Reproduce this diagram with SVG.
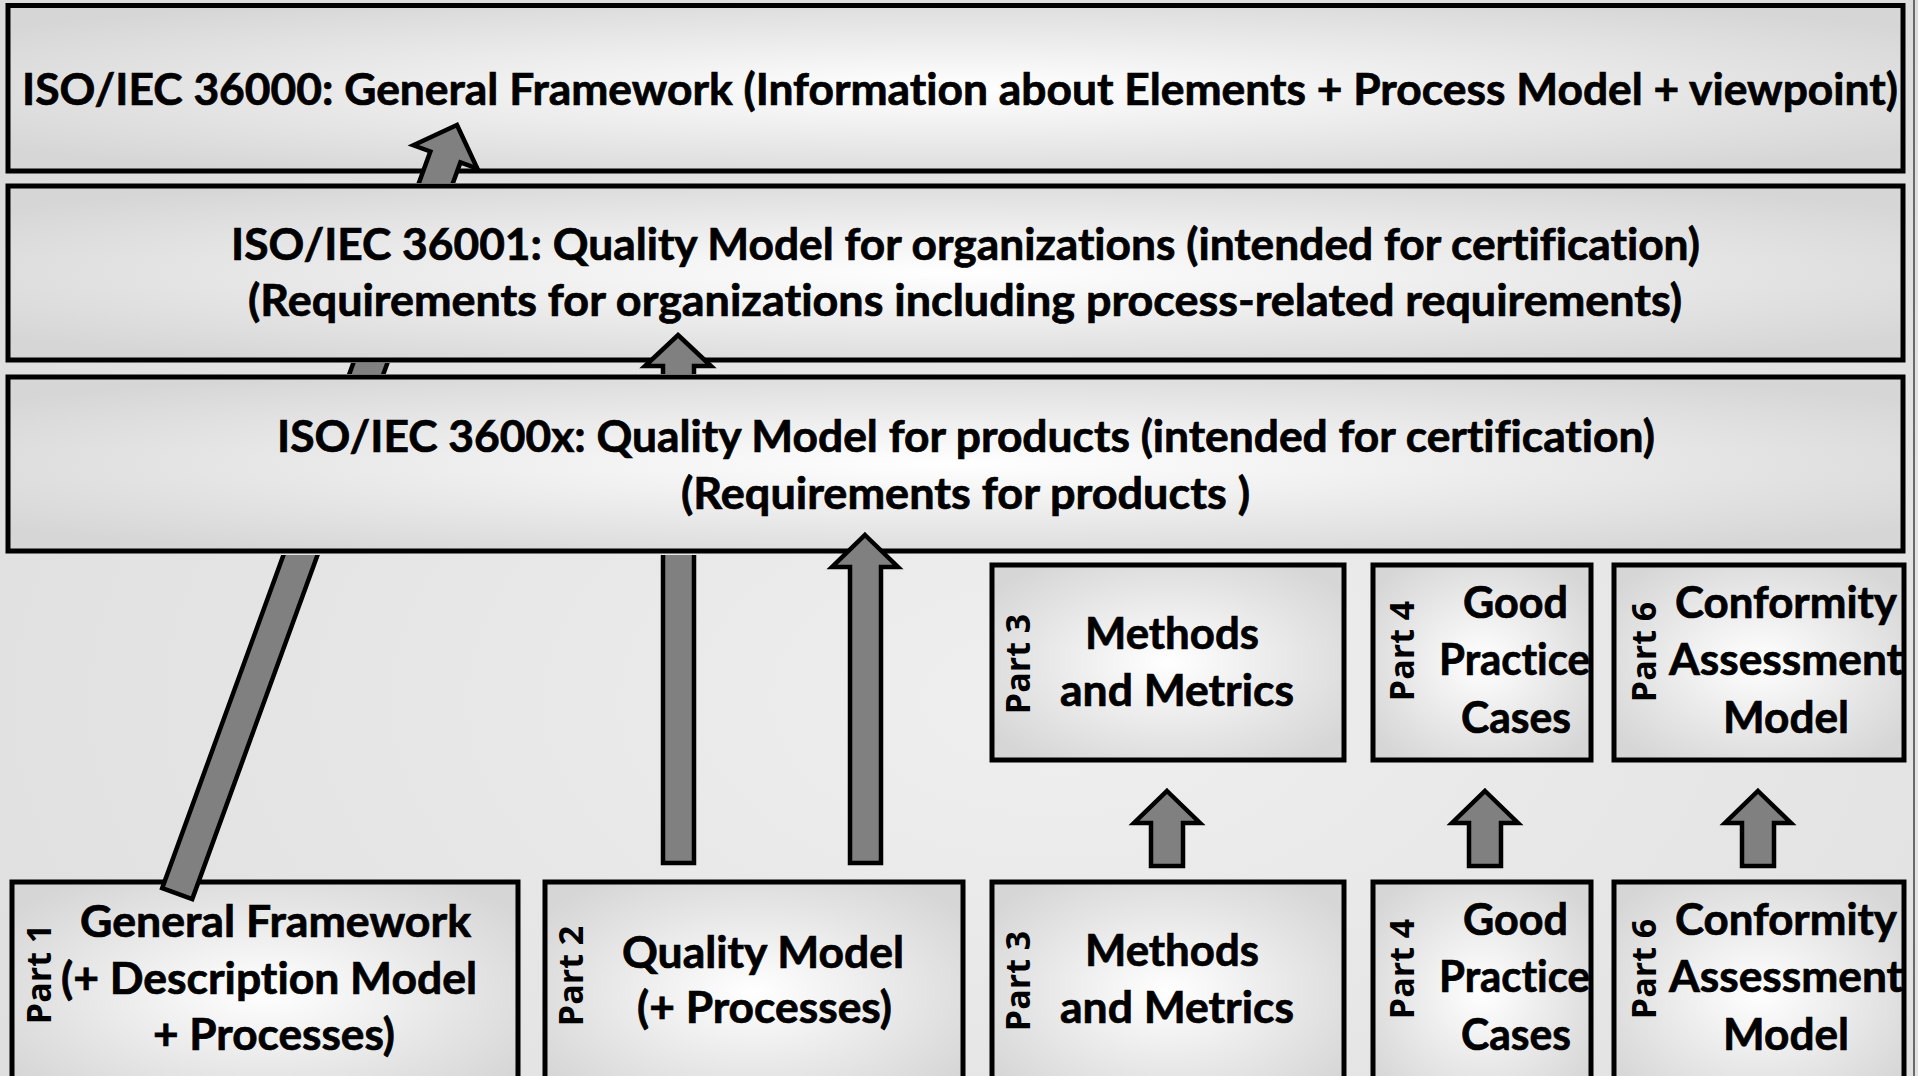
<svg xmlns="http://www.w3.org/2000/svg" width="1918" height="1076" viewBox="0 0 1918 1076">
<defs>
<radialGradient id="boxFill" cx="50%" cy="50%" r="62%">
<stop offset="0" stop-color="#ffffff"/>
<stop offset="1" stop-color="#d6d6d6"/>
</radialGradient>
<radialGradient id="bg" cx="55%" cy="65%" r="75%">
<stop offset="0" stop-color="#efefef"/>
<stop offset="1" stop-color="#dcdcdc"/>
</radialGradient>
<mask id="mDiag" maskUnits="userSpaceOnUse" x="0" y="0" width="1918" height="1076">
<rect x="0" y="0" width="1918" height="1076" fill="#fff"/>
<rect x="0" y="183" width="1918" height="180" fill="#000"/>
<rect x="0" y="374" width="1918" height="181" fill="#000"/>
</mask>
<mask id="mA" maskUnits="userSpaceOnUse" x="0" y="0" width="1918" height="1076">
<rect x="0" y="0" width="1918" height="1076" fill="#fff"/>
<rect x="0" y="374" width="1918" height="181" fill="#000"/>
</mask>
</defs>
<style>
.box{fill:url(#boxFill);stroke:#000;stroke-width:5}
.arrow{fill:#808080;stroke:#000;stroke-width:4.5;stroke-linejoin:miter}
.t{font-family:Lato,"Open Sans","Liberation Sans",sans-serif;font-weight:bold;font-size:43px;fill:#000;stroke:#000;stroke-width:0.7;font-variant-ligatures:none;font-feature-settings:"liga" 0,"dlig" 0}
.part{font-family:"Open Sans","DejaVu Sans",sans-serif;font-weight:bold;font-size:34px;fill:#000;text-anchor:middle}
</style>
<rect x="0" y="0" width="1918" height="1076" fill="url(#bg)"/>
<line x1="1914" y1="0" x2="1914" y2="1076" stroke="#6a6a6a" stroke-width="2"/>

<g id="nodes">
<g id="iso36000">
<rect class="box" x="8" y="5.5" width="1895" height="165.5"/>
<text class="t" x="22" y="105" textLength="1876" lengthAdjust="spacingAndGlyphs">ISO/IEC 36000: General Framework (Information about Elements + Process Model + viewpoint)</text>
</g>
<g id="iso36001">
<rect class="box" x="8" y="186" width="1895" height="174"/>
<text class="t" x="231" y="260" textLength="1469" lengthAdjust="spacingAndGlyphs">ISO/IEC 36001: Quality Model for organizations (intended for certification)</text>
<text class="t" x="248" y="316" textLength="1434" lengthAdjust="spacingAndGlyphs">(Requirements for organizations including process-related requirements)</text>
</g>
<g id="iso3600x">
<rect class="box" x="8" y="377" width="1895" height="174"/>
<text class="t" x="277" y="452" textLength="1378" lengthAdjust="spacingAndGlyphs">ISO/IEC 3600x: Quality Model for products (intended for certification)</text>
<text class="t" x="681" y="509" textLength="569" lengthAdjust="spacingAndGlyphs">(Requirements for products )</text>
</g>

<g id="top-part3">
<rect class="box" x="992" y="565" width="352" height="195"/>
<text class="part" transform="translate(1030,664) rotate(-90)">Part 3</text>
<text class="t" x="1085" y="649" textLength="174" lengthAdjust="spacingAndGlyphs">Methods</text>
<text class="t" x="1060" y="706" textLength="234" lengthAdjust="spacingAndGlyphs">and Metrics</text>
</g>
<g id="top-part4">
<rect class="box" x="1373" y="565" width="218" height="195"/>
<text class="part" transform="translate(1414,651) rotate(-90)">Part 4</text>
<text class="t" x="1463" y="618" textLength="105" lengthAdjust="spacingAndGlyphs">Good</text>
<text class="t" x="1439" y="675" textLength="151" lengthAdjust="spacingAndGlyphs">Practice</text>
<text class="t" x="1461" y="733" textLength="110" lengthAdjust="spacingAndGlyphs">Cases</text>
</g>
<g id="top-part6">
<rect class="box" x="1614" y="565" width="290" height="195"/>
<text class="part" transform="translate(1656,652) rotate(-90)">Part 6</text>
<text class="t" x="1675" y="618" textLength="222" lengthAdjust="spacingAndGlyphs">Conformity</text>
<text class="t" x="1669" y="675" textLength="234" lengthAdjust="spacingAndGlyphs">Assessment</text>
<text class="t" x="1723" y="733" textLength="126" lengthAdjust="spacingAndGlyphs">Model</text>
</g>

<g id="part1">
<rect class="box" x="12" y="882" width="506" height="220"/>
<text class="part" transform="translate(51,974) rotate(-90)">Part 1</text>
<text class="t" x="80" y="937" textLength="391" lengthAdjust="spacingAndGlyphs">General Framework</text>
<text class="t" x="61" y="994" textLength="416" lengthAdjust="spacingAndGlyphs">(+ Description Model</text>
<text class="t" x="153" y="1050" textLength="242" lengthAdjust="spacingAndGlyphs">+ Processes)</text>
</g>
<g id="part2">
<rect class="box" x="545" y="882" width="418" height="220"/>
<text class="part" transform="translate(583,976) rotate(-90)">Part 2</text>
<text class="t" x="622" y="968" textLength="282" lengthAdjust="spacingAndGlyphs">Quality Model</text>
<text class="t" x="637" y="1023" textLength="255" lengthAdjust="spacingAndGlyphs">(+ Processes)</text>
</g>
<g id="part3">
<rect class="box" x="992" y="882" width="352" height="220"/>
<text class="part" transform="translate(1030,981) rotate(-90)">Part 3</text>
<text class="t" x="1085" y="966" textLength="174" lengthAdjust="spacingAndGlyphs">Methods</text>
<text class="t" x="1060" y="1023" textLength="234" lengthAdjust="spacingAndGlyphs">and Metrics</text>
</g>
<g id="part4">
<rect class="box" x="1373" y="882" width="218" height="220"/>
<text class="part" transform="translate(1414,969) rotate(-90)">Part 4</text>
<text class="t" x="1463" y="935" textLength="105" lengthAdjust="spacingAndGlyphs">Good</text>
<text class="t" x="1439" y="992" textLength="151" lengthAdjust="spacingAndGlyphs">Practice</text>
<text class="t" x="1461" y="1050" textLength="110" lengthAdjust="spacingAndGlyphs">Cases</text>
</g>
<g id="part6">
<rect class="box" x="1614" y="882" width="290" height="220"/>
<text class="part" transform="translate(1656,969) rotate(-90)">Part 6</text>
<text class="t" x="1675" y="935" textLength="222" lengthAdjust="spacingAndGlyphs">Conformity</text>
<text class="t" x="1669" y="992" textLength="234" lengthAdjust="spacingAndGlyphs">Assessment</text>
<text class="t" x="1723" y="1050" textLength="126" lengthAdjust="spacingAndGlyphs">Model</text>
</g>
</g>

<g id="connectors">
<g mask="url(#mDiag)">
<polygon class="arrow" transform="translate(457,125) rotate(20)" points="0,0 34,34 16,34 16,818 -16,818 -16,34 -34,34"/>
</g>
<g mask="url(#mA)">
<polygon class="arrow" points="678,335 711,366 694,366 694,863 663,863 663,366 645,366"/>
</g>
<polygon class="arrow" points="865,535 898,567 881,567 881,863 850,863 850,567 832,567"/>
<polygon class="arrow" points="1167,791 1200,823 1183,823 1183,866 1151,866 1151,823 1134,823"/>
<polygon class="arrow" points="1485,791 1518,823 1501,823 1501,866 1469,866 1469,823 1452,823"/>
<polygon class="arrow" points="1758,791 1791,823 1774,823 1774,866 1742,866 1742,823 1725,823"/>
</g>
</svg>
